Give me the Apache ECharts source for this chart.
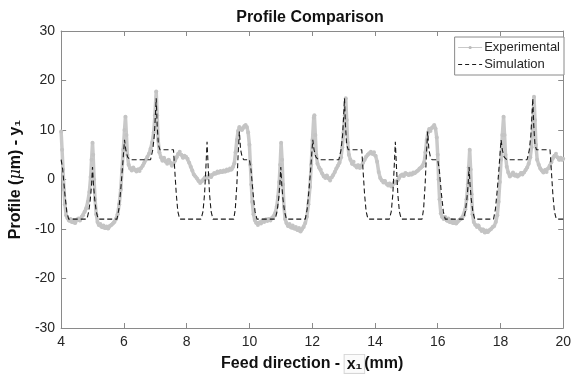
<!DOCTYPE html>
<html>
<head>
<meta charset="utf-8">
<script src="https://cdn.jsdelivr.net/npm/echarts@6/dist/echarts.min.js"></script>
<style>html,body{margin:0;padding:0;background:#fff}#c{width:574px;height:379px}</style>
</head>
<body>
<div id="c"></div>
<script>
const titleText = 'Profile Comparison';
const xName = 'Feed direction - ';
const yName = 'Profile (';
const xTicks = [4, 6, 8, 10, 12, 14, 16, 18, 20];
const yTicks = [-30, -20, -10, 0, 10, 20, 30];
const seriesNames = ['Experimental', 'Simulation'];

const expX = [4.00,4.03,4.06,4.09,4.12,4.16,4.20,4.25,4.30,4.35,4.40,4.45,4.50,4.55,4.60,4.65,4.70,4.75,4.80,4.85,4.90,4.94,4.97,5.00,5.02,5.05,5.08,5.12,5.16,5.20,5.25,5.30,5.35,5.40,5.45,5.50,5.55,5.60,5.65,5.70,5.75,5.80,5.85,5.90,5.94,5.98,6.02,6.05,6.08,6.11,6.15,6.20,6.25,6.30,6.35,6.40,6.45,6.50,6.55,6.60,6.65,6.70,6.75,6.80,6.85,6.90,6.95,6.99,7.03,7.06,7.09,7.13,7.18,7.23,7.28,7.33,7.38,7.43,7.48,7.53,7.58,7.63,7.68,7.73,7.78,7.83,7.88,7.93,7.98,8.03,8.08,8.13,8.18,8.23,8.28,8.33,8.38,8.43,8.48,8.53,8.58,8.63,8.68,8.73,8.78,8.83,8.88,8.93,8.98,9.03,9.08,9.13,9.18,9.23,9.28,9.33,9.38,9.43,9.48,9.52,9.56,9.60,9.64,9.68,9.72,9.76,9.80,9.84,9.88,9.92,9.96,10.00,10.03,10.06,10.09,10.13,10.17,10.22,10.27,10.32,10.37,10.42,10.47,10.52,10.57,10.62,10.67,10.72,10.77,10.82,10.87,10.91,10.95,10.98,11.01,11.04,11.07,11.10,11.14,11.18,11.23,11.28,11.33,11.38,11.43,11.48,11.53,11.58,11.63,11.68,11.73,11.78,11.83,11.88,11.93,11.97,12.01,12.05,12.07,12.10,12.13,12.17,12.22,12.27,12.32,12.37,12.42,12.47,12.52,12.57,12.62,12.67,12.72,12.77,12.82,12.87,12.92,12.96,13.00,13.04,13.07,13.10,13.13,13.17,13.22,13.27,13.32,13.37,13.42,13.47,13.52,13.57,13.62,13.67,13.72,13.77,13.82,13.87,13.92,13.97,14.02,14.07,14.12,14.17,14.22,14.27,14.32,14.37,14.42,14.47,14.52,14.57,14.62,14.67,14.72,14.77,14.82,14.87,14.92,14.97,15.02,15.07,15.12,15.17,15.22,15.27,15.32,15.37,15.42,15.47,15.52,15.57,15.61,15.65,15.69,15.73,15.77,15.81,15.85,15.89,15.93,15.97,16.00,16.03,16.06,16.10,16.14,16.19,16.24,16.29,16.34,16.39,16.44,16.49,16.54,16.59,16.64,16.69,16.74,16.79,16.84,16.88,16.92,16.96,16.99,17.02,17.05,17.08,17.11,17.15,17.20,17.25,17.30,17.35,17.40,17.45,17.50,17.55,17.60,17.65,17.70,17.75,17.80,17.85,17.90,17.94,17.98,18.02,18.06,18.10,18.13,18.16,18.20,18.25,18.30,18.35,18.40,18.45,18.50,18.55,18.60,18.65,18.70,18.75,18.80,18.85,18.90,18.95,18.99,19.03,19.07,19.10,19.13,19.17,19.22,19.27,19.32,19.37,19.42,19.47,19.52,19.57,19.62,19.67,19.72,19.77,19.82,19.87,19.92,19.97,20.00];
const expY = [9.7,6,2,-2,-5,-7.2,-7.8,-8.3,-8.0,-8.6,-8.2,-8.8,-8.1,-7.9,-8.3,-7.6,-7.2,-6.5,-5.8,-4.5,-2.5,0.5,4,7.4,5,0,-4,-7,-8.6,-9.2,-9.0,-9.6,-9.3,-9.8,-9.5,-9.9,-9.4,-9.2,-8.9,-8.6,-8.0,-7.0,-5,-2,2,6,10,12.7,9,5,3,2.2,1.8,2.4,1.9,1.6,2.0,1.7,2.3,2.8,3.4,4.0,4.6,5.2,6.2,7.5,9.5,13,17.8,13,8,5.5,4.5,3.8,4.4,3.6,3.2,4.0,3.4,2.8,3.2,3.8,4.5,5.2,5.6,5.0,4.4,4.8,4.6,4.2,3.4,2.6,1.8,1.0,0.6,0.2,-0.3,-0.7,-0.4,0,0.4,0.2,0.6,0.9,0.5,1.0,1.3,1.2,1.6,1.4,1.7,1.5,1.8,1.6,2.0,1.8,2.2,2.0,2.6,3.3,5.5,8,9.8,10.6,10.2,10.0,10.4,10.8,11.0,10.6,9.5,7,3,-1,-4.5,-7,-8.2,-8.8,-9.2,-8.7,-8.9,-8.3,-8.6,-8.1,-8.4,-8.0,-8.3,-7.8,-7.5,-6.8,-5.5,-3.5,-0.5,3,7.4,4,-1,-5.5,-8,-8.8,-9.4,-9.0,-9.7,-9.3,-9.9,-9.6,-10.2,-9.8,-10.5,-10.0,-9.6,-8.8,-7.5,-5,-1.5,3,8,12.5,13,9,5,3.2,2.4,2.0,1.2,0.6,0.3,0.8,0.2,-0.2,0.4,0.9,1.5,2.2,2.8,3.4,4.5,6.5,9.5,13,16.4,12,7.5,5,4.0,3.2,3.6,2.8,2.4,2.9,2.3,2.8,3.4,4.0,4.6,5.0,5.3,5.6,5.2,5.5,4.8,3.6,1.5,0.3,-0.2,-0.6,-0.3,-0.9,-1.2,-0.8,-1.4,-1.0,-0.5,-0.7,-0.2,0.3,0.8,1.0,0.7,1.3,1.1,0.9,1.2,1.0,1.4,1.3,1.6,1.8,2.2,2.4,2.7,3.5,5.5,8,9.5,10.2,9.8,10.4,10.6,11.0,10.3,8.5,5,0,-4,-6.8,-7.6,-8.0,-7.6,-8.3,-7.9,-8.6,-8.2,-8.8,-8.4,-8.9,-8.5,-8.2,-8.0,-7.6,-7.2,-6,-4,-1,2.5,6,2,-3,-7,-8.6,-9.2,-9.6,-9.3,-10.0,-10.4,-10.1,-10.7,-10.3,-10.6,-10.2,-10.0,-9.6,-9.4,-8.6,-7.2,-4.5,-0.5,4,9,12.7,9,5,2.6,1.4,0.6,0.9,1.4,0.8,1.0,0.6,0.9,1.3,1.0,1.4,1.9,2.4,3.2,4.5,6.5,11,16.7,12,7,4,3.0,2.2,1.8,1.4,1.9,1.5,2.2,2.8,3.5,4.3,4.8,5.2,4.5,4.0,4.4,4.0,4.2];

const simX = [4.00,4.05,4.12,4.18,4.24,4.82,4.88,4.93,4.97,5.00,5.03,5.07,5.12,5.18,5.78,5.84,5.90,5.95,5.99,6.02,6.06,6.12,6.20,6.85,6.92,6.97,7.00,7.03,7.06,7.10,7.15,7.58,7.62,7.67,7.72,7.78,8.46,8.52,8.57,8.61,8.65,8.69,8.73,8.78,8.84,9.50,9.55,9.60,9.64,9.68,9.72,9.77,9.82,
10.00,10.05,10.12,10.18,10.24,10.82,10.88,10.93,10.97,11.00,11.03,11.07,11.12,11.18,11.78,11.84,11.90,11.95,11.99,12.02,12.06,12.12,12.20,12.85,12.92,12.97,13.00,13.03,13.06,13.10,13.15,13.58,13.62,13.67,13.72,13.78,14.46,14.52,14.57,14.61,14.65,14.69,14.73,14.78,14.84,15.50,15.55,15.60,15.64,15.68,15.72,15.77,15.82,
16.00,16.05,16.12,16.18,16.24,16.82,16.88,16.93,16.97,17.00,17.03,17.07,17.12,17.18,17.78,17.84,17.90,17.95,17.99,18.02,18.06,18.12,18.20,18.85,18.92,18.97,19.00,19.03,19.06,19.10,19.15,19.58,19.62,19.67,19.72,19.78,20.00];
const simY = [4,2,-3,-6.5,-8,-8,-6.5,-4,-1,2.5,-1,-4,-6.5,-8,-8,-6,-2,2,5.5,8,6,4.5,4,4,6,9,12.5,16.4,11,7,6,6,2,-3,-6.5,-8,-8,-6.5,-3,2,7.6,2,-3,-6.5,-8,-8,-6,-1,5,9.7,6,4.5,4,
4,2,-3,-6.5,-8,-8,-6.5,-4,-1,2.5,-1,-4,-6.5,-8,-8,-6,-2,2,5.5,8,6,4.5,4,4,6,9,12.5,16.4,11,7,6,6,2,-3,-6.5,-8,-8,-6.5,-3,2,7.6,2,-3,-6.5,-8,-8,-6,-1,5,9.7,6,4.5,4,
4,2,-3,-6.5,-8,-8,-6.5,-4,-1,2.5,-1,-4,-6.5,-8,-8,-6,-2,2,5.5,8,6,4.5,4,4,6,9,12.5,16.4,11,7,6,6,2,-3,-6.5,-8,-8];

const zip = (xs, ys) => xs.map((x, i) => [x, ys[i]]);
const FONT = 'Liberation Sans, Arial, sans-serif';
const frameColor = '#8a8a8a';
const txtColor = '#262626';
const expColor = '#c9c9c9';
const simColor = '#1a1a1a';

const chart = echarts.init(document.getElementById('c'), null, {renderer: 'canvas'});
const baseX = {
  type: 'value', min: xTicks[0], max: xTicks[xTicks.length - 1], interval: 2,
  axisLine: {show: true, onZero: false, lineStyle: {color: frameColor, width: 1}},
  axisTick: {show: true, inside: true, length: 5, lineStyle: {color: frameColor}},
  splitLine: {show: false}
};
const baseY = {
  type: 'value', min: yTicks[0], max: yTicks[yTicks.length - 1], interval: 10,
  axisLine: {show: true, onZero: false, lineStyle: {color: frameColor, width: 1}},
  axisTick: {show: true, inside: true, length: 5, lineStyle: {color: frameColor}},
  splitLine: {show: false}
};
chart.setOption({
  animation: false,
  backgroundColor: '#fff',
  title: {
    text: titleText, left: 310, top: 10, textAlign: 'center', padding: 0,
    textStyle: {fontFamily: FONT, fontSize: 16, fontWeight: 'bold', color: '#111'}
  },
  grid: {left: 55, right: 9, top: 31, bottom: 51, containLabel: false},
  legend: {
    orient: 'vertical', right: 10, top: 37, itemWidth: 24, itemHeight: 4, itemGap: 4,
    padding: [4, 4, 4, 3], borderColor: '#8a8a8a', borderWidth: 1, backgroundColor: '#fff',
    textStyle: {fontFamily: FONT, fontSize: 13, color: txtColor, padding: [0, 0, 0, -3]},
    data: [
      {name: seriesNames[0], lineStyle: {width: 1, color: expColor}, itemStyle: {color: '#bbb'}},
      {name: seriesNames[1], lineStyle: {width: 1, color: simColor, type: [4, 3]}, itemStyle: {color: 'rgba(0,0,0,0)', borderWidth: 0}}
    ]
  },
  xAxis: [
    Object.assign({}, baseX, {
      position: 'bottom',
      name: '{b|' + xName + '}{bx|x₁}{b|(mm)}', nameLocation: 'middle', nameGap: 26,
      nameTextStyle: {rich: {
        b: {fontFamily: FONT, fontSize: 16, fontWeight: 'bold', color: '#111'},
        bx: {fontFamily: FONT, fontSize: 16, fontWeight: 'bold', color: '#111', borderColor: '#d6d6d6', borderWidth: 1, padding: [2, 2, 0, 2], backgroundColor: '#fbfbfb'}
      }},
      axisLabel: {fontFamily: FONT, fontSize: 14, color: txtColor, margin: 7}
    }),
    Object.assign({}, baseX, {position: 'top', axisLabel: {show: false}})
  ],
  yAxis: [
    Object.assign({}, baseY, {
      position: 'left',
      name: '{b|' + yName + '}{i|μ}{b|m) - y₁}', nameLocation: 'middle', nameGap: 29,
      nameTextStyle: {rich: {
        b: {fontFamily: FONT, fontSize: 16, fontWeight: 'bold', color: '#111'},
        i: {fontFamily: 'DejaVu Serif, serif', fontSize: 16, fontStyle: 'italic', color: '#111'}
      }},
      axisLabel: {fontFamily: FONT, fontSize: 14, color: txtColor, margin: 6}
    }),
    Object.assign({}, baseY, {position: 'right', axisLabel: {show: false}})
  ],
  series: [
    {
      name: seriesNames[0], type: 'line', xAxisIndex: 0, yAxisIndex: 0,
      data: zip(expX, expY), symbol: 'circle', symbolSize: 4, showSymbol: true,
      lineStyle: {color: expColor, width: 3.5}, itemStyle: {color: '#c4c4c4'},
      z: 2, clip: true
    },
    {
      name: seriesNames[1], type: 'line', xAxisIndex: 0, yAxisIndex: 0,
      data: zip(simX, simY), symbol: 'none',
      lineStyle: {color: simColor, width: 1.1, type: [5, 3]},
      itemStyle: {color: simColor},
      z: 3, clip: true
    }
  ]
});
</script>
</body>
</html>
